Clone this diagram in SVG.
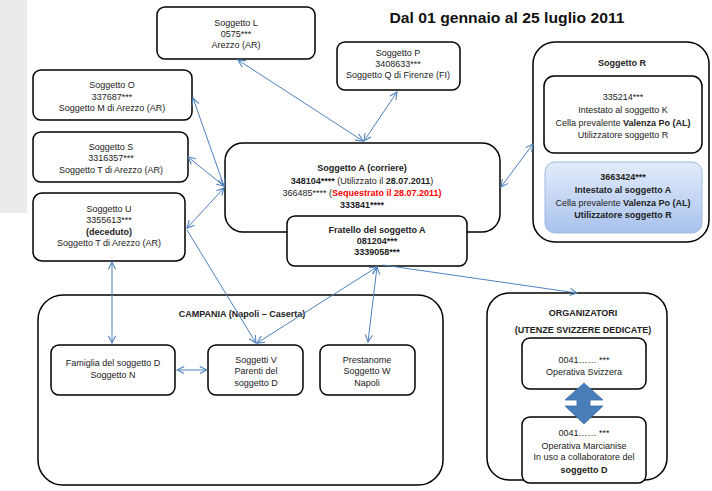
<svg xmlns="http://www.w3.org/2000/svg" width="712" height="491" viewBox="0 0 712 491">
<style>
.box{fill:#fff;stroke:#000;stroke-width:1.5}
.t{font-family:"Liberation Sans",Arial,sans-serif;font-size:9px;fill:#222;text-anchor:middle}
.b{font-weight:bold}
.c{stroke:#4f81bd;stroke-width:1;fill:none;marker-start:url(#ah);marker-end:url(#ah)}
.ce{stroke:#4f81bd;stroke-width:1;fill:none;marker-end:url(#ah)}
</style>
<defs>
<marker id="ah" viewBox="0 0 10 10" refX="9" refY="5" markerWidth="9" markerHeight="9" markerUnits="userSpaceOnUse" orient="auto-start-reverse">
<path d="M1,1 L9,5 L1,9" fill="none" stroke="#4f81bd" stroke-width="1.2"/>
</marker>
<linearGradient id="blue" x1="0" y1="0" x2="0" y2="1">
<stop offset="0" stop-color="#e3ecfa"/>
<stop offset="1" stop-color="#a8c2ee"/>
</linearGradient>
</defs>
<rect x="0" y="0" width="27" height="213" fill="#ebebeb"/>
<text x="507" y="23" font-family="Liberation Sans,Arial,sans-serif" font-size="15" font-weight="bold" text-anchor="middle" fill="#111" textLength="235" lengthAdjust="spacingAndGlyphs">Dal 01 gennaio al 25 luglio 2011</text>

<g id="nodeL">
<rect class="box" x="157" y="7" width="158" height="52" rx="8"/>
<text class="t" x="236" y="26">Soggetto L</text>
<text class="t" x="236" y="37">0575***</text>
<text class="t" x="236" y="48">Arezzo (AR)</text>
</g>

<g id="nodeP">
<rect class="box" x="337" y="42" width="123" height="48" rx="8"/>
<text class="t" x="398" y="56">Soggetto P</text>
<text class="t" x="398" y="67">3408633***</text>
<text class="t" x="398" y="78">Soggetto Q di Firenze (FI)</text>
</g>

<g id="nodeO">
<rect class="box" x="33" y="70" width="159" height="50" rx="8"/>
<text class="t" x="112" y="88">Soggetto O</text>
<text class="t" x="112" y="100">337687***</text>
<text class="t" x="112" y="111">Soggetto M di Arezzo (AR)</text>
</g>

<g id="nodeS">
<rect class="box" x="33" y="132" width="155" height="50" rx="8"/>
<text class="t" x="111" y="150">Soggetto S</text>
<text class="t" x="111" y="161">3316357***</text>
<text class="t" x="111" y="173">Soggetto T di Arezzo (AR)</text>
</g>

<g id="nodeU">
<rect class="box" x="33" y="193" width="152" height="68" rx="9"/>
<text class="t" x="109" y="212">Soggetto U</text>
<text class="t" x="109" y="223">3355613***</text>
<text class="t b" x="109" y="235">(deceduto)</text>
<text class="t" x="109" y="246">Soggetto T di Arezzo (AR)</text>
</g>

<g id="nodeA">
<rect class="box" x="225" y="143" width="275" height="89" rx="18"/>
<text class="t b" x="362" y="171" font-size="10">Soggetto A (corriere)</text>
<text class="t" x="362" y="184" font-size="10"><tspan font-weight="bold">348104****</tspan> (Utilizzato il <tspan font-weight="bold">28.07.2011</tspan>)</text>
<text class="t" x="362" y="196" font-size="10">366485**** (<tspan font-weight="bold" fill="#ff0000">Sequestrato il 28.07.2011)</tspan></text>
<text class="t b" x="362" y="208" font-size="10">333841****</text>
</g>

<g id="nodeFratello">
<rect class="box" x="287" y="216" width="180" height="50" rx="8"/>
<text class="t b" x="377" y="233">Fratello del soggetto A</text>
<text class="t b" x="377" y="244">081204***</text>
<text class="t b" x="377" y="255">3339058***</text>
</g>

<g id="nodeR">
<rect class="box" x="533" y="42" width="176" height="200" rx="22"/>
<text class="t b" x="622" y="66" font-size="11">Soggetto R</text>
</g>

<g id="nodeR1">
<rect class="box" x="544" y="76" width="158" height="77" rx="10"/>
<text class="t" x="623" y="100">335214***</text>
<text class="t" x="623" y="113">Intestato al soggetto K</text>
<text class="t" x="623" y="126">Cella prevalente <tspan font-weight="bold">Valenza Po (AL)</tspan></text>
<text class="t" x="623" y="138">Utilizzatore soggetto R</text>
</g>

<g id="nodeR2">
<rect x="545" y="162" width="157" height="71" rx="10" fill="url(#blue)" stroke="#9fb8e0" stroke-width="1"/>
<text class="t b" x="623" y="180">3663424***</text>
<text class="t b" x="623" y="193">Intestato al soggetto A</text>
<text class="t" x="623" y="206">Cella prevalente <tspan font-weight="bold">Valenza Po (AL)</tspan></text>
<text class="t b" x="623" y="218">Utilizzatore soggetto R</text>
</g>

<g id="nodeCampania">
<rect class="box" x="38" y="295" width="405" height="190" rx="25"/>
<text class="t b" x="242" y="317" font-size="10">CAMPANIA  (Napoli – Caserta)</text>
</g>

<g id="nodeFamiglia">
<rect class="box" x="51" y="345" width="124" height="50" rx="8"/>
<text class="t" x="113" y="366">Famiglia del soggetto D</text>
<text class="t" x="113" y="378">Soggetto N</text>
</g>

<g id="nodeV">
<rect class="box" x="208" y="345" width="95" height="50" rx="8"/>
<text class="t" x="256" y="363">Soggetti V</text>
<text class="t" x="256" y="374">Parenti del</text>
<text class="t" x="256" y="386">soggetto D</text>
</g>

<g id="nodeW">
<rect class="box" x="320" y="345" width="95" height="50" rx="8"/>
<text class="t" x="367" y="363">Prestanome</text>
<text class="t" x="367" y="374">Soggetto W</text>
<text class="t" x="367" y="386">Napoli</text>
</g>

<g id="nodeOrganizatori">
<rect class="box" x="487" y="293" width="180" height="187" rx="22"/>
<text class="t b" x="583" y="316" font-size="10">ORGANIZATORI</text>
<text class="t b" x="583" y="333" font-size="10">(UTENZE SVIZZERE DEDICATE)</text>
</g>

<g id="nodeSvizzera">
<rect class="box" x="522" y="338" width="124" height="51" rx="8"/>
<text class="t" x="584" y="363">0041…… ***</text>
<text class="t" x="584" y="375">Operativa Svizzera</text>
</g>

<g id="nodeMarcianise">
<rect class="box" x="522" y="417" width="124" height="66" rx="8"/>
<text class="t" x="584" y="436">0041…… ***</text>
<text class="t" x="584" y="449">Operativa Marcianise</text>
<text class="t" x="584" y="460">In uso a collaboratore del</text>
<text class="t b" x="584" y="473">soggetto D</text>
</g>

<g id="doubleArrow">
<path d="M584,383 L603,400 L590,400 L590,406 L603,406 L584,424 L565,406 L577,406 L577,400 L565,400 Z" fill="#4a7ebb" stroke="#3d6ca6" stroke-width="0.8"/>
</g>

<g id="connectors">
<line class="c" x1="238" y1="60" x2="363" y2="141"/>
<line class="c" x1="397" y1="92" x2="364" y2="141"/>
<line class="c" x1="193" y1="98" x2="224" y2="186"/>
<line class="c" x1="188" y1="157" x2="224" y2="186"/>
<line class="c" x1="187" y1="228" x2="224" y2="188"/>
<line class="c" x1="112" y1="262" x2="112" y2="343"/>
<line class="ce" x1="187" y1="230" x2="256" y2="343"/>
<line class="c" x1="377" y1="267" x2="257" y2="343"/>
<line class="c" x1="377" y1="267" x2="368" y2="342"/>
<line class="ce" x1="383" y1="265" x2="577" y2="293"/>
<line class="c" x1="501" y1="187" x2="533" y2="144"/>
<line class="c" x1="177" y1="370" x2="207" y2="370"/>
</g>
</svg>
